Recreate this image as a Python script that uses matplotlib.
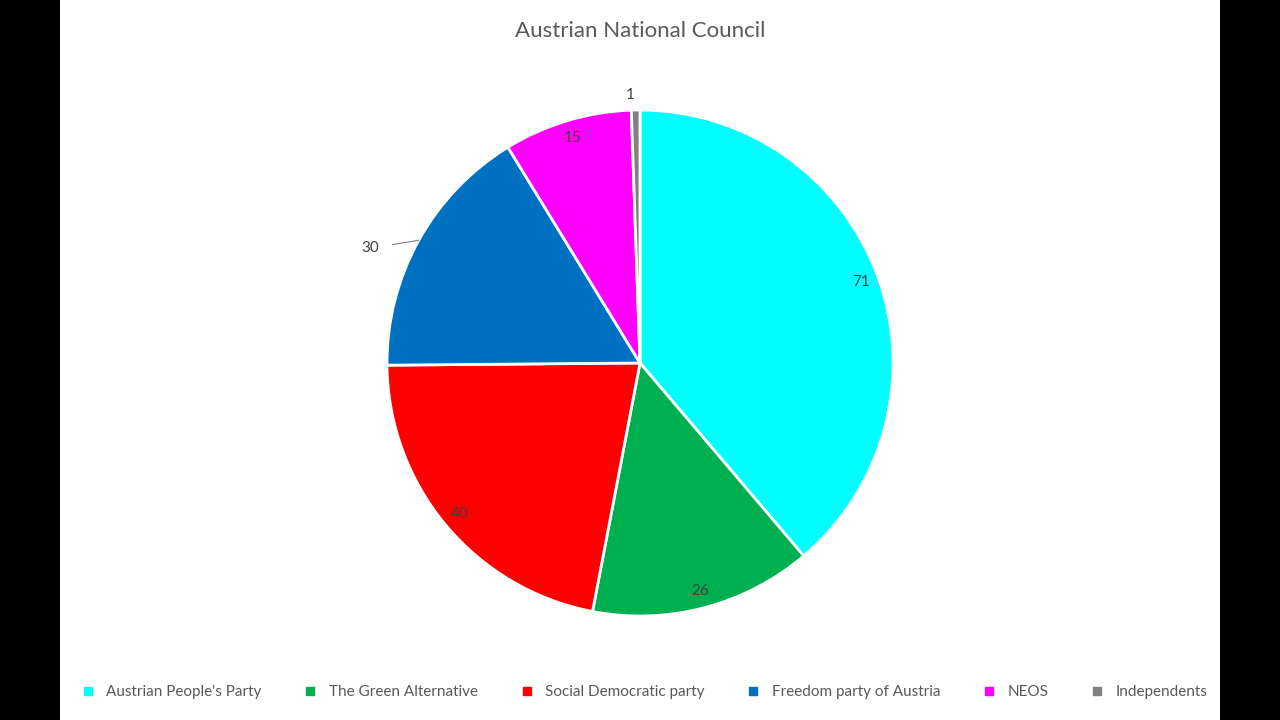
import matplotlib.pyplot as plt
import numpy as np

plt.rcParams["font.family"] = ["Lato", "DejaVu Sans"]

parties = ["Austrian People's Party", "The Green Alternative", "Social Democratic party",
           "Freedom party of Austria", "NEOS", "Independents"]
seats = [71, 26, 40, 30, 15, 1]
colors = ["#00FFFF", "#00B050", "#FF0000", "#0070C0", "#FF00FF", "#808080"]

fig = plt.figure(figsize=(12.8, 7.2), dpi=100, facecolor="black")
bg = fig.add_axes([60 / 1280, 0, 1160 / 1280, 1])
bg.set_facecolor("white")
bg.set_xticks([])
bg.set_yticks([])
for s in bg.spines.values():
    s.set_visible(False)

cx, cy, r = 640, 363, 253
ax = fig.add_axes([(cx - r) / 1280, (720 - cy - r) / 720, 2 * r / 1280, 2 * r / 720])
wedges, _ = ax.pie(seats, colors=colors, startangle=90, counterclock=False,
                   wedgeprops=dict(edgecolor="white", linewidth=2))
ax.set_xlim(-1, 1)
ax.set_ylim(-1, 1)
ax.set_aspect("equal")
ax.axis("off")

total = sum(seats)
cum = 0
for i, v in enumerate(seats):
    mid = np.deg2rad(90 - (cum + v / 2) / total * 360)
    cum += v
    if v == 30:
        ang = np.deg2rad(157)
        ax.annotate(str(v), xy=(np.cos(mid), np.sin(mid)),
                    xytext=(1.16 * np.cos(ang), 1.16 * np.sin(ang)),
                    ha="center", va="center", fontsize=11, color="#404040",
                    arrowprops=dict(arrowstyle="-", color="#808080", lw=0.8,
                                    shrinkA=8, shrinkB=0))
    elif v == 1:
        ax.text(1.06 * np.cos(mid) - 0.02, 1.06 * np.sin(mid), str(v),
                ha="center", va="center", fontsize=11, color="#404040")
    else:
        ax.text(0.93 * np.cos(mid), 0.93 * np.sin(mid), str(v),
                ha="center", va="center", fontsize=11, color="#404040")

fig.text(640 / 1280, 1 - 31 / 720, "Austrian National Council", ha="center", va="center",
         fontsize=16, color="#595959")

handles = [plt.Line2D([], [], marker="s", linestyle="", color=c, markersize=6) for c in colors]
fig.legend(handles, parties, loc="center", bbox_to_anchor=(640 / 1280, 1 - 692 / 720),
           ncol=6, frameon=False, fontsize=11, handletextpad=0.2, columnspacing=2.2,
           labelcolor="#595959")

fig.savefig("out.png", dpi=100, facecolor="black")
